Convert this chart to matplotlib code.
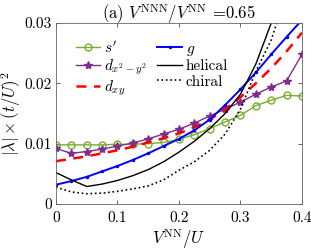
import numpy as np
import matplotlib
matplotlib.use("Agg")
import matplotlib.pyplot as plt

plt.rcParams['font.family'] = 'serif'
plt.rcParams['font.serif'] = ['cmr10', 'DejaVu Serif']
plt.rcParams['mathtext.fontset'] = 'cm'
plt.rcParams['axes.formatter.use_mathtext'] = True

# V^NN/U grid
v_nn = [0.0, 0.025, 0.05, 0.075, 0.1, 0.125, 0.15, 0.175, 0.2,
        0.225, 0.25, 0.275, 0.3, 0.325, 0.35, 0.375, 0.4]

s_prime = [0.0098, 0.0098, 0.0098, 0.0098, 0.0099, 0.0099, 0.0100, 0.0102, 0.0107,
           0.0115, 0.0125, 0.0136, 0.0147, 0.0163, 0.0172, 0.0180, 0.0179]
d_x2y2 = [0.0092, 0.0084, 0.0087, 0.0091, 0.0096, 0.0101, 0.0108, 0.0116, 0.0124,
          0.0134, 0.0146, 0.0157, 0.0169, 0.0182, 0.0194, 0.0204, 0.0248]
d_xy = [0.0071, 0.0075, 0.0079, 0.0084, 0.0089, 0.0095, 0.0102, 0.0109, 0.0117,
        0.0127, 0.0140, 0.0157, 0.0177, 0.0200, 0.0225, 0.0253, 0.0284]
g_wave = [0.0032, 0.0038, 0.0045, 0.0054, 0.0063, 0.0073, 0.0084, 0.0096, 0.0108,
          0.0122, 0.0140, 0.0164, 0.0190, 0.0218, 0.0248, 0.0277, 0.0305]
helical = [0.0052, 0.0040, 0.0029, 0.0033, 0.0039, 0.0047, 0.0057, 0.0070, 0.0086,
           0.0104, 0.0125, 0.0150, 0.0182, 0.0232, 0.0300, 0.0380, 0.0480]
chiral = [0.0028, 0.0020, 0.0017, 0.0018, 0.0021, 0.0025, 0.0030, 0.0040, 0.0056,
          0.0070, 0.0089, 0.0116, 0.0157, 0.0220, 0.0272, 0.0350, 0.0450]

fig = plt.figure(figsize=(3.11, 2.5), dpi=100)
ax = fig.add_axes([0.18, 0.184, 0.791, 0.724])

ax.plot(v_nn, s_prime, '-o', color='#77AC30', lw=1, ms=5, mfc='none', mew=1, label="$s'$")
ax.plot(v_nn, d_x2y2, '-*', color='#7E2F8E', lw=1, ms=6, label='$d_{x^2-y^2}$')
ax.plot(v_nn, d_xy, '--', color='red', lw=1.8, dashes=(4, 3), label='$d_{xy}$')
ax.plot(v_nn, g_wave, '.-', color='blue', lw=1.4, ms=3, label='$g$')
ax.plot(v_nn, helical, '-', color='black', lw=1, label='helical')
ax.plot(v_nn, chiral, ':', color='black', lw=1.2, label='chiral')

ax.set_xlim(0, 0.4)
ax.set_ylim(0, 0.03)
ax.set_xticks([0, 0.1, 0.2, 0.3, 0.4])
ax.set_xticklabels(['0', '0.1', '0.2', '0.3', '0.4'])
ax.set_yticks([0, 0.01, 0.02, 0.03])
ax.set_yticklabels(['0', '0.01', '0.02', '0.03'])
ax.tick_params(direction='in', top=True, right=True, labelsize=11, length=3,
               width=0.6, color='0.3')
ax.tick_params(axis='x', pad=5)
ax.tick_params(axis='y', pad=3)
for sp in ax.spines.values():
    sp.set_color('0.4')
    sp.set_linewidth(0.6)

ax.set_xlabel(r'$V^{\rm NN}/U$', fontsize=12, labelpad=1.5)
ax.set_ylabel(r'$|\lambda| \times (t/U)^2$', fontsize=12, labelpad=1)
ax.set_title(r'(a) $V^{\rm NNN}/V^{\rm NN}$ =0.65', fontsize=12, pad=3)

ax.legend(ncol=2, loc='upper left', bbox_to_anchor=(0.025, 0.985), frameon=False,
          fontsize=11, handlelength=1.6, handletextpad=0.25, columnspacing=0.7,
          labelspacing=0.12, borderaxespad=0.5)

fig.savefig('out.png', dpi=100)
